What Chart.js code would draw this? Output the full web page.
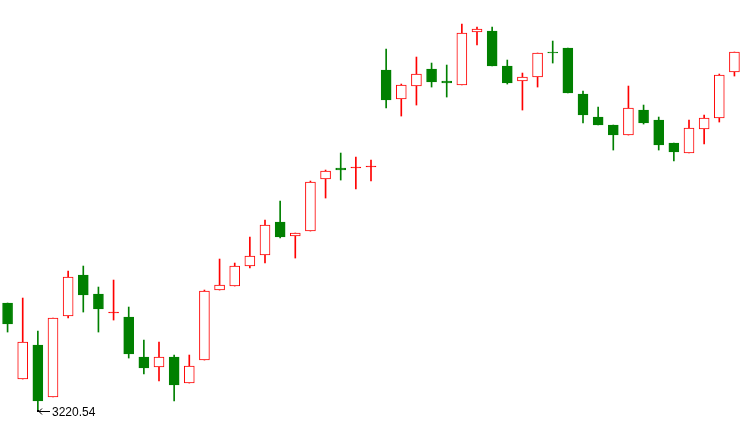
<!DOCTYPE html>
<html>
<head>
<meta charset="utf-8">
<script src="https://cdn.jsdelivr.net/npm/chart.js@4"></script>
<style>
  html, body { margin: 0; padding: 0; background: #fff; }
  #wrap { width: 745px; height: 437px; }
</style>
</head>
<body>
<div id="wrap"><canvas id="chart"></canvas></div>
<script>
// Daily prices (open / high / low / close)
const open = [3328.5, 3252.5, 3286.5, 3234.5, 3315.5, 3356.5, 3337.5, 3318.5, 3314.5, 3274.5,
  3264.5, 3274.5, 3248.5, 3271.5, 3341.5, 3345.5, 3365.5, 3376.5, 3409.5, 3395.5,
  3400.5, 3452.5, 3463.5, 3463.5, 3464.5, 3561.5, 3532.5, 3545.5, 3562.5, 3550.5,
  3546.5, 3599.5, 3600.5, 3565.5, 3550.5, 3554.5, 3579.5, 3583.5, 3537.5, 3514.5,
  3506.5, 3496.5, 3521.5, 3511.5, 3488.5, 3478.5, 3502.5, 3513.5, 3559.5]
const high = [3328.5, 3333.5, 3300.5, 3313.5, 3360.5, 3365.5, 3344.5, 3351.5, 3324.5, 3291.5,
  3289.5, 3276.5, 3276.5, 3341.5, 3372.5, 3368.5, 3394.5, 3411.5, 3430.5, 3398.5,
  3450.5, 3461.5, 3478.5, 3474.5, 3471.5, 3582.5, 3547.5, 3574.5, 3568.5, 3566.5,
  3607.5, 3604.5, 3604.5, 3571.5, 3558.5, 3578.5, 3590.5, 3583.5, 3540.5, 3524.5,
  3506.5, 3545.5, 3526.5, 3514.5, 3488.5, 3511.5, 3516.5, 3557.5, 3579.5]
const low = [3299.5, 3252.5, 3220.54, 3234.5, 3313.5, 3319.5, 3299.5, 3311.5, 3273.5, 3257.5,
  3250.5, 3230.5, 3248.5, 3271.5, 3341.5, 3345.5, 3363.5, 3368.5, 3393.5, 3373.5,
  3400.5, 3433.5, 3451.5, 3442.5, 3450.5, 3523.5, 3515.5, 3526.5, 3544.5, 3534.5,
  3546.5, 3586.5, 3565.5, 3547.5, 3521.5, 3544.5, 3568.5, 3538.5, 3508.5, 3506.5,
  3481.5, 3496.5, 3507.5, 3481.5, 3470.5, 3478.5, 3487.5, 3509.5, 3555.5]
const close = [3307.5, 3289.5, 3230.5, 3313.5, 3354.5, 3336.5, 3322.5, 3318.5, 3277.5, 3263.5,
  3274.5, 3246.5, 3265.5, 3340.5, 3346.5, 3365.5, 3375.5, 3406.5, 3394.5, 3398.5,
  3449.5, 3460.5, 3461.5, 3463.5, 3465.5, 3531.5, 3546.5, 3557.5, 3549.5, 3548.5,
  3598.5, 3602.5, 3565.5, 3548.5, 3554.5, 3578.5, 3578.5, 3538.5, 3516.5, 3506.5,
  3496.5, 3523.5, 3508.5, 3486.5, 3479.5, 3503.5, 3513.5, 3556.5, 3579.5]

const days = open.map((_, i) => String(i + 1))

const UP = '#ff0000'
const DOWN = '#008000'
const isUp = open.map((o, i) => close[i] >= o)
const lineColors = isUp.map(u => u ? UP : DOWN)
// hollow up candles, but very flat bodies are drawn solid
const fillColors = isUp.map((u, i) => (u && close[i] - open[i] > 1.5) ? '#ffffff' : lineColors[i])

// Marks the lowest low with an arrow and its value
const lowLabel = {
  id: 'lowLabel',
  afterDatasetsDraw(chart) {
    let idx = 0
    low.forEach((v, i) => { if (v < low[idx]) idx = i })
    const x = Math.round(chart.scales.x.getPixelForValue(idx))
    const y = Math.round(chart.scales.y.getPixelForValue(low[idx])) + 0.5
    const ctx = chart.ctx
    ctx.save()
    ctx.strokeStyle = '#000'
    ctx.fillStyle = '#000'
    ctx.lineWidth = 1
    ctx.beginPath()
    ctx.moveTo(x, y)
    ctx.lineTo(x + 12, y)
    ctx.moveTo(x + 4, y - 3)
    ctx.lineTo(x + 1, y)
    ctx.lineTo(x + 4, y + 3)
    ctx.stroke()
    ctx.fillRect(x - 1, y - 1.5, 2, 2)
    ctx.font = '12px "Liberation Sans", Arial, sans-serif'
    ctx.textAlign = 'left'
    ctx.textBaseline = 'middle'
    ctx.fillText(low[idx].toFixed(2), x + 14, y + 1)
    ctx.restore()
  }
}

new Chart(document.getElementById('chart'), {
  type: 'bar',
  data: {
    labels: days,
    datasets: [
      {
        label: 'body',
        data: open.map((o, i) => [o, close[i]]),
        backgroundColor: fillColors,
        borderColor: lineColors,
        borderWidth: 1,
        borderSkipped: false,
        barThickness: 10,
        minBarLength: 1,
        grouped: false,
        order: 1
      },
      {
        label: 'wick',
        data: low.map((l, i) => [l, high[i]]),
        backgroundColor: lineColors,
        borderWidth: 0,
        barThickness: 1,
        grouped: false,
        order: 2
      }
    ]
  },
  options: {
    responsive: true,
    maintainAspectRatio: false,
    animation: false,
    layout: { padding: { left: 0, right: 3, top: 0, bottom: 0 } },
    plugins: {
      legend: { display: false },
      tooltip: { enabled: false }
    },
    scales: {
      x: { display: false, offset: true },
      y: { display: false, min: 3194.54, max: 3631.54 }
    }
  },
  plugins: [lowLabel]
})
</script>
</body>
</html>
